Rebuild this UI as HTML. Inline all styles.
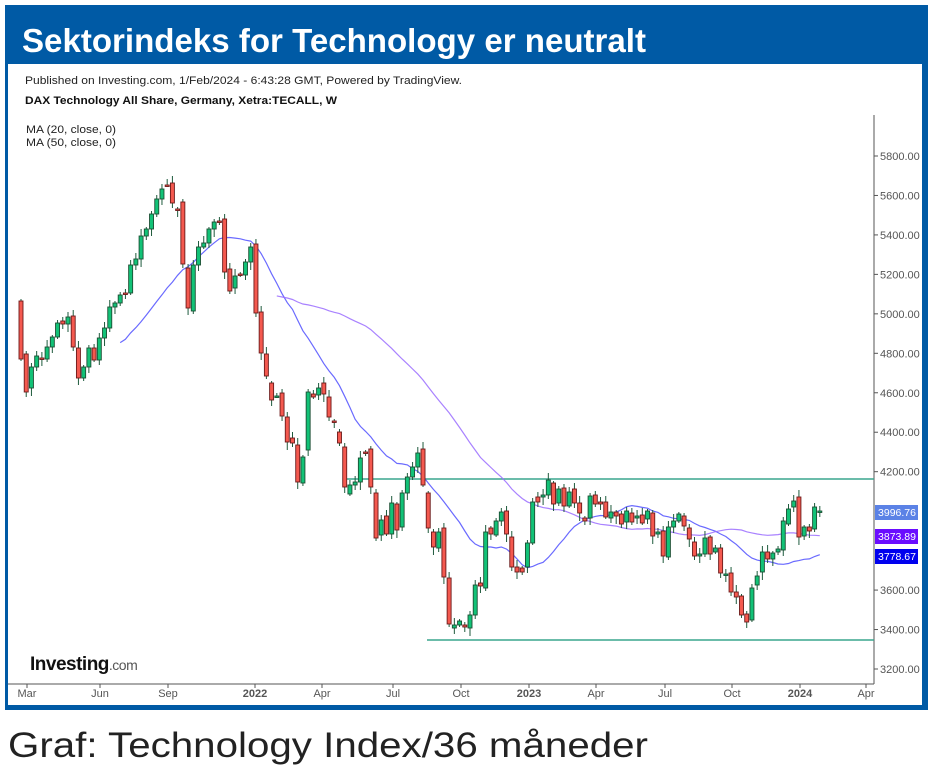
<!DOCTYPE html>
<html><head><meta charset="utf-8"><style>
html,body{margin:0;padding:0;background:#fff;width:932px;height:775px;overflow:hidden}
svg{display:block}
</style></head><body>
<svg id="s" width="932" height="775" xmlns="http://www.w3.org/2000/svg" font-family="Liberation Sans, sans-serif">
<rect x="5" y="5" width="923" height="705" fill="#005aa5"/>
<rect x="8" y="64" width="914" height="641" fill="#fff"/>
<text x="22" y="52" fill="#fff" font-weight="bold" font-size="33" textLength="624" lengthAdjust="spacingAndGlyphs">Sektorindeks for Technology er neutralt</text>
<text x="25" y="84" fill="#222" font-size="11" textLength="437" lengthAdjust="spacingAndGlyphs">Published on Investing.com, 1/Feb/2024 - 6:43:28 GMT, Powered by TradingView.</text>
<text x="25" y="104" fill="#111" font-size="11" font-weight="bold" textLength="312" lengthAdjust="spacingAndGlyphs">DAX Technology All Share, Germany, Xetra:TECALL, W</text>
<text x="26" y="133" fill="#222" font-size="11" textLength="90" lengthAdjust="spacingAndGlyphs">MA (20, close, 0)</text>
<text x="26" y="146" fill="#222" font-size="11" textLength="90" lengthAdjust="spacingAndGlyphs">MA (50, close, 0)</text>
<line x1="874" y1="115" x2="874" y2="684" stroke="#555" stroke-width="1"/>
<line x1="8" y1="684" x2="874" y2="684" stroke="#555" stroke-width="1"/>
<line x1="345" y1="479" x2="874" y2="479" stroke="#3aa58e" stroke-width="1.6"/>
<line x1="427" y1="640" x2="874" y2="640" stroke="#3aa58e" stroke-width="1.6"/>
<g id="yt" font-size="11" fill="#555"></g>
<g id="xt" font-size="11" fill="#555"></g>
<g id="c"></g>
<text x="30" y="670" font-size="19" font-weight="bold" fill="#111" letter-spacing="-0.5">Investing<tspan font-weight="normal" font-size="14" fill="#555">.com</tspan></text>
<rect x="875" y="505" width="43" height="15" fill="#5b82e6"/>
<text x="878" y="516" font-size="10.5" fill="#fff" textLength="38" lengthAdjust="spacingAndGlyphs">3996.76</text>
<rect x="875" y="529" width="43" height="15" fill="#6a0dff"/>
<text x="878" y="540" font-size="10.5" fill="#fff" textLength="38" lengthAdjust="spacingAndGlyphs">3873.89</text>
<rect x="875" y="549" width="43" height="15" fill="#0000ee"/>
<text x="878" y="560" font-size="10.5" fill="#fff" textLength="38" lengthAdjust="spacingAndGlyphs">3778.67</text>
<text x="8" y="757" font-size="35" fill="#222" textLength="640" lengthAdjust="spacingAndGlyphs">Graf: Technology Index/36 måneder</text>
</svg>
<script>
var NS="http://www.w3.org/2000/svg";
function el(p,t,a,txt){var e=document.createElementNS(NS,t);for(var k in a)e.setAttribute(k,a[k]);if(txt)e.textContent=txt;p.appendChild(e);return e;}
var yt=document.getElementById('yt');
for(var v=3200;v<=5800;v+=200){var y=669-(v-3200)*0.19731;
 if(Math.abs(y-512)<9||Math.abs(y-536)<9||Math.abs(y-556)<9)continue;
 el(yt,'line',{x1:874,y1:y,x2:878,y2:y,stroke:'#555'});
 el(yt,'text',{x:880,y:y+4},v.toFixed(2));}
var xt=document.getElementById('xt');
[["Mar",27],["Jun",100],["Sep",168],["2022",255,1],["Apr",322],["Jul",393],["Oct",461],["2023",529,1],["Apr",596],["Jul",665],["Oct",732],["2024",800,1],["Apr",866]].forEach(function(a){
 el(xt,'line',{x1:a[1],y1:684,x2:a[1],y2:688,stroke:'#555'});
 var t=el(xt,'text',{x:a[1],y:697,'text-anchor':'middle'},a[0]);if(a[2])t.setAttribute('font-weight','bold');});
var D=[[301,359],[354,392],[388,367],[367,356],[358,359],[359,347],[347,337],[337,323],[321,324],[324,317],[316,347],[348,378],[378,367],[367,348],[348,360],[360,338],[338,328],[328,307],[307,303],[303,295],[293,293],[293,265],[265,259],[259,236],[236,229],[229,214],[214,199],[199,189],[185,185],[183,203],[209,209],[202,264],[268,308],[311,265],[265,247],[247,243],[243,229],[229,222],[221,221],[219,272],[269,291],[288,276],[274,275],[275,262],[262,247],[244,313],[312,353],[354,376],[383,400],[396,396],[393,416],[417,442],[438,443],[445,482],[483,457],[450,392],[394,397],[395,388],[383,394],[397,417],[421,421],[432,443],[447,487],[494,485],[485,482],[482,458],[452,452],[449,487],[493,538],[535,520],[516,534],[534,503],[504,530],[527,493],[493,477],[477,467],[467,453],[449,485],[493,528],[532,547],[548,532],[528,577],[578,624],[628,625],[625,621],[625,627],[628,615],[615,585],[583,586],[588,532],[528,534],[535,521],[521,512],[511,534],[537,567],[567,572],[568,572],[567,543],[543,502],[497,502],[497,495],[495,480],[483,504],[503,489],[488,506],[506,492],[489,503],[503,513],[518,521],[518,496],[495,504],[502,504],[502,517],[518,512],[512,516],[514,524],[522,511],[513,522],[518,516],[515,523],[519,511],[513,536],[534,532],[531,556],[557,527],[527,521],[521,514],[516,526],[528,539],[542,556],[556,554],[554,538],[537,554],[552,548],[548,573],[574,574],[573,592],[592,597],[596,615],[614,622],[620,588],[585,576],[572,552],[552,559],[559,553],[552,549],[550,521],[524,509],[507,501],[497,537],[536,527],[527,531],[529,507],[511,511]];
var g=document.getElementById('c');
function X(i){return 21+i*5.221;}
function ma(n,col){var pts=[];for(var i=n-1;i<D.length;i++){var s=0;for(var j=i-n+1;j<=i;j++)s+=D[j][1];pts.push(X(i).toFixed(1)+','+(s/n).toFixed(1));}
 el(g,'polyline',{points:pts.join(' '),fill:'none',stroke:col,'stroke-width':1.2,opacity:0.85});}
ma(20,'#5050ff');ma(50,'#9a6cff');
D.forEach(function(d,i){var x=X(i),o=d[0],c=d[1],top=Math.min(o,c),bot=Math.max(o,c);
 var up=c<o||(c==o&&i%2);var hi=top-(2+(i*7)%6),lo=bot+(2+(i*3)%7);
 el(g,'line',{x1:x,y1:hi,x2:x,y2:lo,stroke:'#1e5a3c','stroke-width':1});
 var h=Math.max(bot-top,1.5);
 el(g,'rect',{x:x-2,y:top,width:4,height:h,fill:up?'#12c277':'#f4594f',stroke:up?'#1b4f33':'#6b1a1a','stroke-width':0.9});});
</script>
</body></html>
